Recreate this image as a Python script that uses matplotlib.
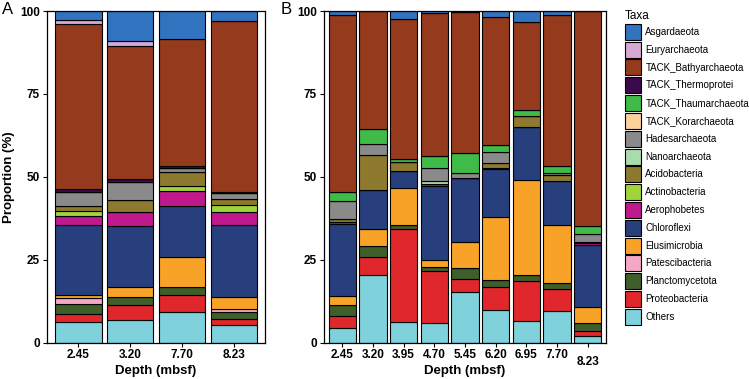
import numpy as np
import matplotlib
matplotlib.use("Agg")
import matplotlib.pyplot as plt
from matplotlib.patches import Patch

plt.rcParams['font.family'] = ['Liberation Sans', 'DejaVu Sans']

# taxa in stacking order (bottom -> top)
taxa = ["Others", "Proteobacteria", "Planctomycetota", "Patescibacteria",
        "Elusimicrobia", "Chloroflexi", "Aerophobetes", "Actinobacteria",
        "Acidobacteria", "Nanoarchaeota", "Hadesarchaeota", "TACK_Korarchaeota",
        "TACK_Thaumarchaeota", "TACK_Thermoprotei", "TACK_Bathyarchaeota",
        "Euryarchaeota", "Asgardaeota"]

colors = ["#7fd1dc", "#e0272b", "#3e5e2a", "#f5a8c3",
          "#f8a328", "#273f7d", "#c0188d", "#9fd43b",
          "#8d7a2f", "#a9dbae", "#8a8a8a", "#fdd09c",
          "#3fbb47", "#3b0a4c", "#953a1d",
          "#d5a8d6", "#3173be"]

depth_a = ["2.45", "3.20", "7.70", "8.23"]
depth_b = ["2.45", "3.20", "3.95", "4.70", "5.45", "6.20", "6.95", "7.70", "8.23"]

# panel A values (%), one list per taxon, one entry per depth
a_vals = {
    "Others":              [6.3, 6.7, 9.2, 5.4],
    "Proteobacteria":      [2.4, 4.7, 5.0, 1.6],
    "Planctomycetota":     [3.0, 2.3, 2.6, 2.3],
    "Patescibacteria":     [1.6, 0.0, 0.0, 0.7],
    "Elusimicrobia":       [0.9, 3.0, 8.9, 3.6],
    "Chloroflexi":         [21.1, 18.4, 15.5, 21.8],
    "Aerophobetes":        [3.0, 4.2, 4.4, 3.9],
    "Actinobacteria":      [1.3, 0.0, 1.5, 2.3],
    "Acidobacteria":       [1.7, 3.6, 4.2, 1.8],
    "Nanoarchaeota":       [0.0, 0.0, 0.0, 0.0],
    "Hadesarchaeota":      [4.1, 5.6, 1.2, 1.6],
    "TACK_Korarchaeota":   [0.0, 0.0, 0.0, 0.0],
    "TACK_Thaumarchaeota": [0.0, 0.0, 0.0, 0.0],
    "TACK_Thermoprotei":   [0.8, 0.8, 0.7, 0.5],
    "TACK_Bathyarchaeota": [49.9, 40.1, 38.3, 51.5],
    "Euryarchaeota":       [1.2, 1.6, 0.0, 0.0],
    "Asgardaeota":         [2.7, 9.0, 8.5, 3.0],
}

# panel B values (%)
b_vals = {
    "Others":              [4.3, 20.5, 6.1, 5.9, 15.1, 9.8, 6.6, 9.6, 2.0],
    "Proteobacteria":      [3.8, 5.4, 28.1, 15.6, 4.0, 6.9, 12.0, 6.5, 1.4],
    "Planctomycetota":     [3.3, 3.3, 1.2, 1.3, 3.5, 2.2, 1.9, 1.8, 2.6],
    "Patescibacteria":     [0, 0, 0, 0, 0, 0, 0, 0, 0],
    "Elusimicrobia":       [2.7, 5.0, 11.3, 2.0, 7.8, 19.0, 28.5, 17.5, 4.6],
    "Chloroflexi":         [21.7, 11.7, 5.0, 22.4, 19.3, 14.4, 16.0, 13.3, 18.8],
    "Aerophobetes":        [0.4, 0, 0, 0.6, 0, 0.4, 0, 0, 0.5],
    "Actinobacteria":      [0.3, 0, 0, 0, 0, 0, 0, 0, 0],
    "Acidobacteria":       [0.7, 10.7, 2.8, 0, 0, 1.3, 3.4, 1.8, 0.4],
    "Nanoarchaeota":       [0, 0, 0, 0.8, 0, 0, 0, 0, 0],
    "Hadesarchaeota":      [5.5, 3.2, 0, 3.9, 1.3, 3.5, 0, 0.5, 2.3],
    "TACK_Korarchaeota":   [0, 0, 0, 0, 0, 0, 0, 0, 0],
    "TACK_Thaumarchaeota": [2.7, 4.7, 0.9, 3.8, 6.3, 2.1, 1.6, 2.2, 2.5],
    "TACK_Thermoprotei":   [0, 0, 0, 0, 0, 0, 0, 0, 0],
    "TACK_Bathyarchaeota": [53.4, 35.5, 42.2, 43.0, 42.3, 38.5, 26.6, 45.6, 64.9],
    "Euryarchaeota":       [0, 0, 0, 0, 0, 0, 0, 0, 0],
    "Asgardaeota":         [1.2, 0, 2.4, 0.7, 0.4, 1.9, 3.4, 1.2, 0],
}


def stacked(ax, labels, vals):
    x = np.arange(len(labels))
    bottom = np.zeros(len(labels))
    for name, col in zip(taxa, colors):
        v = np.array(vals[name], dtype=float)
        ax.bar(x, v, 0.9, bottom=bottom, color=col, edgecolor='black', linewidth=0.8)
        bottom += v
    ax.set_xlim(-0.6, len(labels) - 0.4)
    ax.set_ylim(0, 100)
    ax.set_xticks(x)
    ax.set_xticklabels(labels, fontweight='bold', fontsize=8.5)
    ax.set_yticks([0, 25, 50, 75, 100])
    ax.set_yticklabels(["0", "25", "50", "75", "100"], fontweight='bold', fontsize=8.5)
    ax.tick_params(length=3, width=0.8, pad=2)
    for s in ax.spines.values():
        s.set_linewidth(0.9)
    ax.set_xlabel('Depth (mbsf)', fontweight='bold', fontsize=9.5)
    ax.xaxis.set_label_coords(0.5, -0.068)


fig = plt.figure(figsize=(7.49, 3.79), dpi=100)
axA = fig.add_axes([47/749, 1 - 342.5/379, 218/749, 331.5/379])
axB = fig.add_axes([324/749, 1 - 342.5/379, 282/749, 331.5/379])

stacked(axA, depth_a, a_vals)
stacked(axB, depth_b, b_vals)
axA.set_ylabel('Proportion (%)', fontweight='bold', fontsize=9.5, labelpad=4)

# the last depth label in panel B sits a little lower
axB.xaxis.get_major_ticks()[-1].set_pad(7)

fig.text(2/749, 1 - 9/379, 'A', fontsize=12, va='center', ha='left')
fig.text(281/749, 1 - 9/379, 'B', fontsize=12, va='center', ha='left')

handles = [Patch(facecolor=c, edgecolor='black', linewidth=0.8, label=t)
           for t, c in zip(taxa[::-1], colors[::-1])]
leg = fig.legend(handles=handles, loc='upper left',
                 bbox_to_anchor=(625/749, 1 - 10/379), frameon=False,
                 fontsize=7, title='Taxa', title_fontsize=8.5,
                 handlelength=1.65, handleheight=2.15, labelspacing=0.19,
                 handletextpad=0.45, borderaxespad=0, borderpad=0)
leg._legend_box.align = 'left'

fig.savefig('out.png', dpi=100)
